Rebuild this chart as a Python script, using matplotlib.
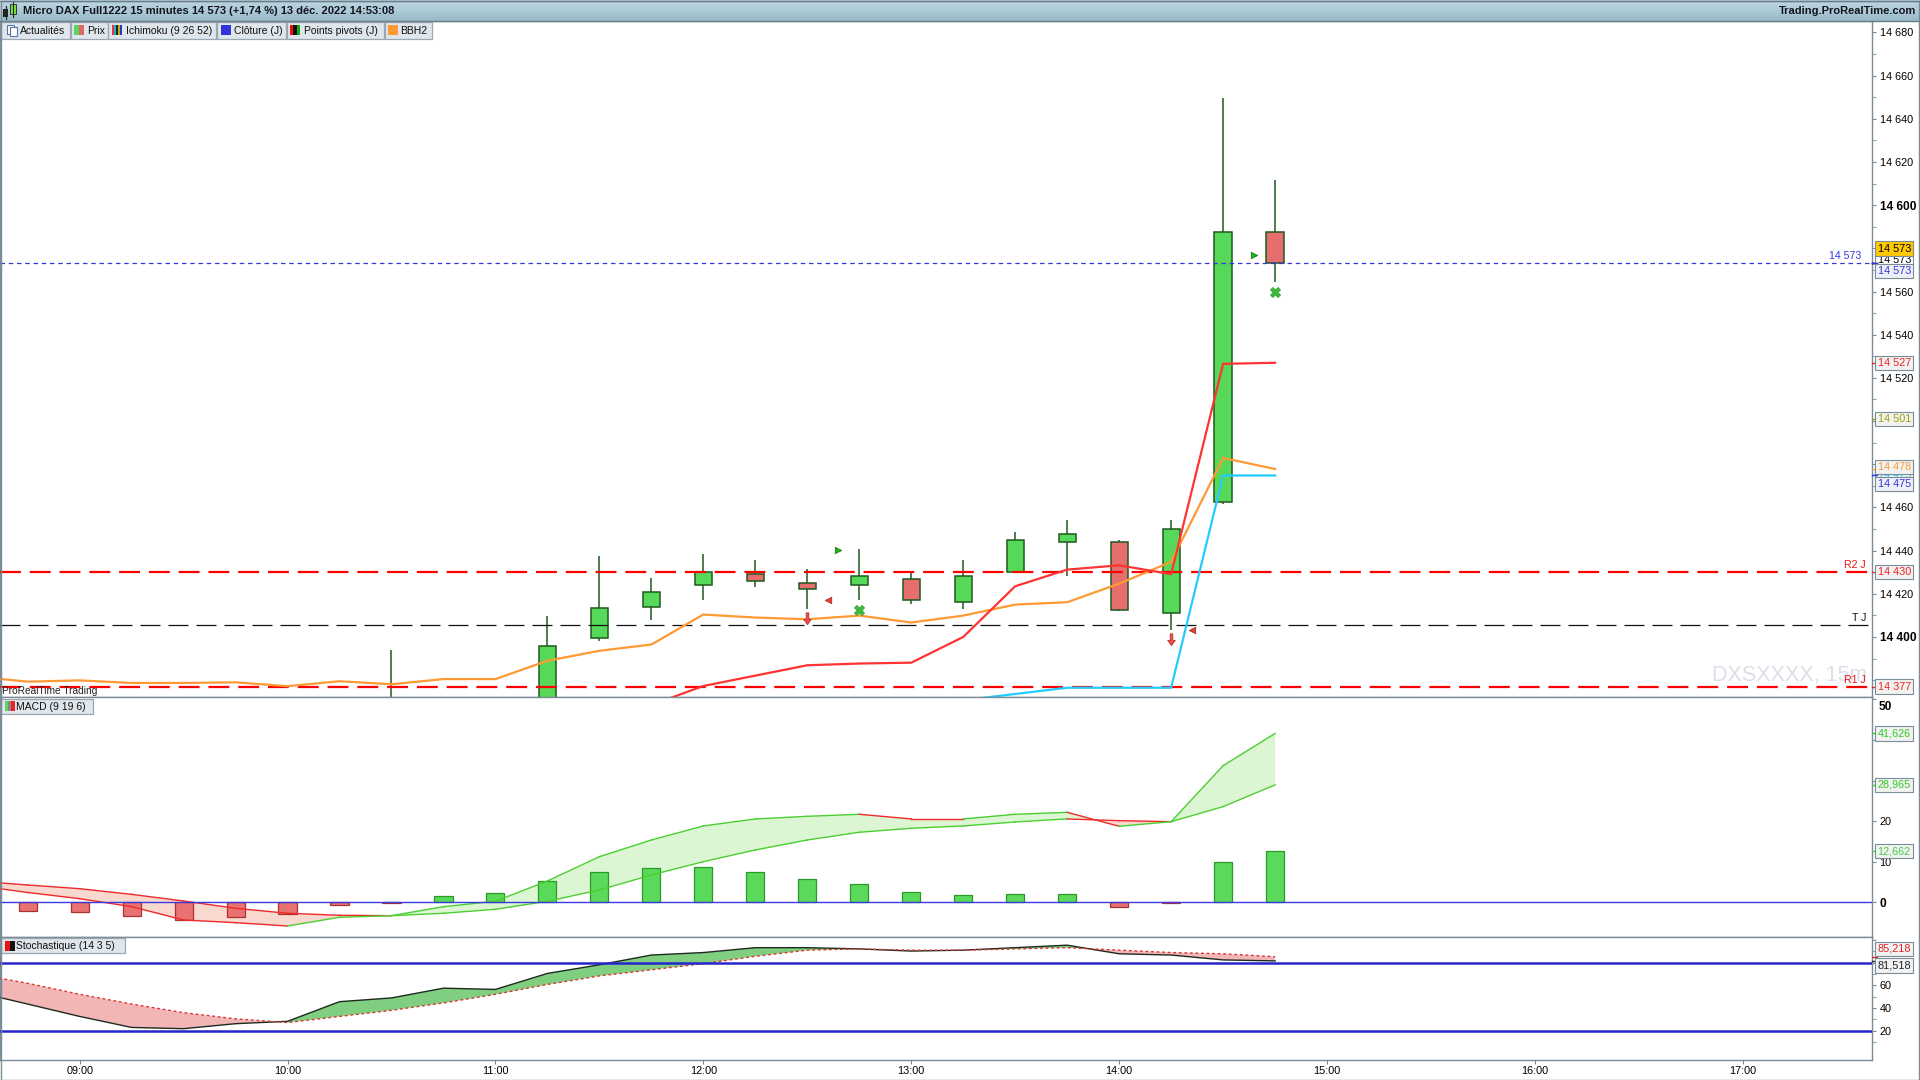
import numpy as np
import matplotlib.pyplot as plt
from matplotlib.patches import Rectangle
from matplotlib.path import Path
from matplotlib.ticker import FixedLocator, MultipleLocator, FuncFormatter

plt.rcParams['font.family'] = ['Liberation Sans', 'DejaVu Sans']

# ---- data: Micro DAX, 15 min bars, 13 Dec 2022 ----
candle_times = ["10:30", "11:15", "11:30", "11:45", "12:00", "12:15", "12:30", "12:45",
                "13:00", "13:15", "13:30", "13:45", "14:00", "14:15", "14:30", "14:45"]
c_open = [14362, 14366, 14399.3, 14413.9, 14424.3, 14429.4, 14425.2, 14424.3,
          14427.0, 14416.4, 14430.3, 14444.2, 14444.2, 14411.3, 14462.3, 14587.4]
c_high = [14393.8, 14409.6, 14437.4, 14427.2, 14438.3, 14435.5, 14431.4, 14440.6,
          14430.4, 14435.5, 14448.5, 14454.4, 14445.0, 14454.4, 14649.6, 14611.6]
c_low = [14352, 14362, 14398.2, 14407.7, 14417.3, 14423.2, 14413.0, 14417.1,
         14415.3, 14413.0, 14430.3, 14428.3, 14412.0, 14403.4, 14461.5, 14564.5]
c_close = [14366, 14396.0, 14413.2, 14421.0, 14430.3, 14426.1, 14422.4, 14428.4,
           14417.3, 14428.4, 14445.1, 14447.5, 14412.4, 14450.2, 14587.4, 14573.0]

ind_times = ["08:30", "08:45", "09:00", "09:15", "09:30", "09:45", "10:00", "10:15", "10:30",
             "10:45", "11:00", "11:15", "11:30", "11:45", "12:00", "12:15", "12:30", "12:45",
             "13:00", "13:15", "13:30", "13:45", "14:00", "14:15", "14:30", "14:45"]
bbh2 = [14381.7, 14379.3, 14379.9, 14378.7, 14378.7, 14379.0, 14377.2, 14379.5, 14378.1,
        14380.5, 14380.5, 14389.0, 14393.6, 14396.5, 14410.4, 14409.0, 14408.2, 14409.9,
        14406.7, 14409.9, 14415.0, 14416.1, 14424.7, 14434.8, 14482.9, 14477.8]
tenkan = [14352, 14360, 14368.5, 14377.3, 14382.1, 14386.9, 14387.7, 14388.1,
          14400.0, 14423.5, 14431.2, 14433.2, 14429.1, 14526.5, 14527.0]      # from 11:00
kijun = [14370.7, 14373.6, 14376.5, 14376.5, 14376.5, 14474.8, 14474.8]     # from 13:15

pivot_r2, pivot_t, pivot_r1 = 14430, 14405.7, 14377
last_price = 14573

# signal markers (time, price)
bull_tri_t, bull_tri_p = ["12:39", "14:39"], [14440.5, 14576.9]
bear_tri_t, bear_tri_p = ["12:36", "14:21"], [14417.3, 14403.4]
down_arrow_t, down_arrow_p = ["12:30", "14:15"], [14408.0, 14398.2]
cross_t, cross_p = ["12:45", "14:45"], [14412.4, 14559.6]

macd_line = [4.2, 2.46, 0.94, -1.03, -4.31, -4.97, -5.79, -3.65, -3.25, -1.03, 0.30, 5.30, 11.28,
             15.39, 18.84, 20.57, 21.22, 21.72, 20.57, 20.57, 21.72, 22.2, 18.76, 19.9, 33.7, 41.626]
macd_signal = [5.29, 4.31, 3.4, 2.0, 0.37, -1.43, -2.66, -3.15, -3.25, -2.66, -1.68, 0.30, 3.08,
               6.77, 10.05, 12.93, 15.39, 17.29, 18.27, 18.84, 19.83, 20.57, 20.15, 19.9, 23.6, 28.965]
macd_hist = [-2.01, -2.42, -3.41, -4.39, -3.65, -2.91, -0.7, -0.2, 1.52, 2.34, 5.22, 7.43, 8.42,
             8.66, 7.43, 5.71, 4.48, 2.5, 1.77, 2.0, 2.0, -1.19, -0.2, 9.9, 12.662]  # from 08:45

stoch_k = [54.3, 43.5, 32.6, 22.9, 21.8, 26.2, 28.3, 45.6, 48.9, 57.5, 56.4, 70.5, 78.1,
           86.7, 88.9, 93.2, 93.2, 92.1, 90.2, 91.0, 93.2, 95.4, 87.8, 86.7, 82.4, 81.518]
stoch_d = [70.1, 61.8, 52.1, 43.5, 35.9, 30.5, 27.2, 32.6, 38.0, 44.5, 52.1, 60.8, 68.3,
           73.7, 79.1, 85.6, 91.0, 92.1, 91.0, 91.0, 92.1, 93.2, 91.0, 88.9, 87.8, 85.218]

hour_ticks = [9, 10, 11, 12, 13, 14, 15, 16, 17]

# ---- helpers ----
GRID = '#7b8c96'
GREEN_EDGE = '#1e5a1e'


def hrs(t):
    h, m = t.split(':')
    return int(h) + int(m) / 60.0


def spaced(v, pos=None):
    return f"{int(np.floor(v + 0.5)):,}".replace(",", " ")


def axis_tag(ax, val, text, tc, fc='#f2f2f2', dy=0.0, z=6):
    ax.plot([1.0, 1.0027], [val, val], transform=ax.get_yaxis_transform(),
            color=tc, lw=1, clip_on=False, zorder=z)
    ax.annotate(text, xy=(1, val), xycoords=('axes fraction', 'data'),
                xytext=(4.0, dy), textcoords='offset points', ha='left', va='center',
                fontsize=7.8, color=tc, annotation_clip=False, zorder=z,
                bbox=dict(boxstyle='square,pad=0.2', fc=fc, ec=GRID, lw=0.8))


def seg_line(ax, x, y, up_c, dn_c, **kw):
    for k in range(len(x) - 1):
        col = up_c if y[k + 1] > y[k] else dn_c
        ax.plot(x[k:k + 2], y[k:k + 2], color=col, **kw)


x_ind = np.array([hrs(t) for t in ind_times])
x_c = np.array([hrs(t) for t in candle_times])
o, h, l, c = map(np.array, (c_open, c_high, c_low, c_close))

fig = plt.figure(figsize=(19.2, 10.8), dpi=100)
fig.patch.set_facecolor('white')

W = 1872 / 1920
ax_p = fig.add_axes([0, 1 - 697 / 1080, W, 676 / 1080])
ax_m = fig.add_axes([0, 1 - 937 / 1080, W, 240 / 1080], sharex=ax_p)
ax_s = fig.add_axes([0, 1 - 1060 / 1080, W, 123 / 1080], sharex=ax_p)

for ax in (ax_p, ax_m, ax_s):
    for sp in ax.spines.values():
        sp.set_color(GRID)
        sp.set_linewidth(1.0)
    ax.yaxis.tick_right()
    ax.tick_params(axis='y', direction='out', length=3, pad=2.5, labelsize=7.8,
                   color=GRID, labelcolor='black', which='both')
    ax.tick_params(axis='y', which='minor', length=3)
    ax.set_facecolor('white')

ax_p.set_xlim(8.617, 17.621)

# ---- price panel ----
ax_p.set_ylim(14372.2, 14685.3)
ax_p.text(0.9973, 0.0325, "DXSXXXX, 15m", transform=ax_p.transAxes, ha='right', va='center',
          fontsize=15.5, color='#dcdfe7', zorder=1)

ax_p.vlines(x_c, l, h, color=GREEN_EDGE, lw=1.1, zorder=2)
body_col = np.where(c >= o, '#58d858', '#e76e6e')
ax_p.bar(x_c, np.abs(c - o), bottom=np.minimum(o, c), width=0.083, color=body_col,
         edgecolor=GREEN_EDGE, lw=1.1, zorder=3)

ax_p.axhline(pivot_r2, color='#ff0000', lw=1.6, ls=(0, (9.4, 4.0)), zorder=4)
ax_p.axhline(pivot_r1, color='#ff0000', lw=1.6, ls=(0, (9.4, 4.0)), zorder=4)
ax_p.axhline(pivot_t, color='#111111', lw=0.9, ls=(0, (16, 6.4)), zorder=4)
ax_p.axhline(last_price, color='#3535e0', lw=0.9, ls=(0, (3.6, 3.0)), zorder=4)

for lvl, txt, col in [(pivot_r2, "R2 J", '#ee1111'), (pivot_t, "T J", '#111111'),
                      (pivot_r1, "R1 J", '#ee1111')]:
    ax_p.annotate(txt, xy=(0.9968, lvl), xycoords=('axes fraction', 'data'), xytext=(0, 1.5),
                  textcoords='offset points', ha='right', va='bottom', fontsize=7.6, color=col,
                  zorder=5)
ax_p.annotate(spaced(last_price), xy=(0.9941, last_price), xycoords=('axes fraction', 'data'),
              xytext=(0, 1.5), textcoords='offset points', ha='right', va='bottom',
              fontsize=7.6, color='#3535e0', zorder=5)

ax_p.plot(x_ind, bbh2, color='#ff9933', lw=1.6, zorder=5)
ax_p.plot(x_ind[-len(tenkan):], tenkan, color='#ff3333', lw=1.6, zorder=5)
ax_p.plot(x_ind[-len(kijun):], kijun, color='#22ccff', lw=1.6, zorder=5)

arrow = Path([(-0.17, 1.0), (0.17, 1.0), (0.17, 0.15), (0.5, 0.15), (0.0, -0.55),
              (-0.5, 0.15), (-0.17, 0.15), (-0.17, 1.0)],
             [Path.MOVETO] + [Path.LINETO] * 6 + [Path.CLOSEPOLY])
ax_p.scatter([hrs(t) for t in down_arrow_t], down_arrow_p, marker=arrow, s=120,
             color='#e85050', edgecolor='#c03030', lw=0.6, zorder=6)
ax_p.scatter([hrs(t) for t in bull_tri_t], bull_tri_p, marker='>', s=22,
             color='#22b022', edgecolor='#117711', lw=0.5, zorder=6)
ax_p.scatter([hrs(t) for t in bear_tri_t], bear_tri_p, marker='<', s=22,
             color='#e04040', edgecolor='#aa2020', lw=0.5, zorder=6)
ax_p.scatter([hrs(t) for t in cross_t], cross_p, marker='X', s=55,
             color='#3cb83c', edgecolor='#2a9a2a', lw=0.4, zorder=6)

price_ticks = list(range(14400, 14681, 20))
ax_p.yaxis.set_major_locator(FixedLocator(price_ticks))
ax_p.yaxis.set_minor_locator(MultipleLocator(10))
# labels hidden in the reference behind the value tags
hidden = (14480, 14500, 14580)
ax_p.set_yticklabels(['' if v in hidden else spaced(v) for v in price_ticks])
for v, lab in zip(price_ticks, ax_p.get_yticklabels()):
    if v in (14400, 14600):
        lab.set_fontweight('bold')
        lab.set_fontsize(8.6)
ax_p.tick_params(axis='x', bottom=False, labelbottom=False)

axis_tag(ax_p, last_price, spaced(last_price), 'black', fc='white', dy=2.7)
axis_tag(ax_p, last_price, spaced(last_price), 'black', fc='#ffc800', dy=10.7, z=7)
axis_tag(ax_p, last_price, spaced(last_price), '#3535e0', fc='#eef0f8', dy=-5.2, z=7)
axis_tag(ax_p, tenkan[-1], spaced(tenkan[-1]), '#ee2222')
axis_tag(ax_p, 14501, "14 501", '#a0a000')
axis_tag(ax_p, kijun[-1], spaced(kijun[-1]), '#22ccff')
axis_tag(ax_p, bbh2[-1], spaced(bbh2[-1]), '#ff9933', dy=1.5, z=7)
axis_tag(ax_p, kijun[-1], spaced(kijun[-1]), '#3535e0', fc='#eef0f8', dy=-6.3, z=8)
axis_tag(ax_p, pivot_r2, spaced(pivot_r2), '#ee2222')
axis_tag(ax_p, pivot_r1, spaced(pivot_r1), '#ee2222')

# ---- MACD panel ----
ax_m.set_ylim(-8.5, 50.6)
mline, msig = np.array(macd_line), np.array(macd_signal)
ax_m.fill_between(x_ind, mline, msig, where=mline >= msig, interpolate=True,
                  color='#dcf6d4', lw=0, zorder=1)
ax_m.fill_between(x_ind, mline, msig, where=mline < msig, interpolate=True,
                  color='#f8d8cf', lw=0, zorder=1)
seg_line(ax_m, x_ind, msig, '#4ccf30', '#ee2a2a', lw=1.0, zorder=3)
seg_line(ax_m, x_ind, mline, '#4ccf30', '#ee2a2a', lw=1.0, zorder=3)
hist = np.array(macd_hist)
ax_m.bar(x_ind[1:], hist, width=0.087, color=np.where(hist >= 0, '#5ad95a', '#e87272'),
         edgecolor=np.where(hist >= 0, '#2a9a2a', '#b03030'), lw=0.9, zorder=2)
ax_m.axhline(0, color='#3b3bdd', lw=1.0, zorder=4)
m_ticks = [0, 10, 20, 30, 40, 50]
ax_m.yaxis.set_major_locator(FixedLocator(m_ticks))
ax_m.set_yticklabels(['0', '10', '20', '', '', ''])
ax_m.get_yticklabels()[0].set_fontweight('bold')
ax_m.get_yticklabels()[0].set_fontsize(8.6)
# top label sits just under the panel edge, as in the reference
ax_m.annotate("50", xy=(1, 50), xycoords=('axes fraction', 'data'), xytext=(4.5, -5.5),
              textcoords='offset points', ha='left', va='center', fontsize=8.6,
              fontweight='bold', annotation_clip=False)
ax_m.tick_params(axis='x', bottom=False, labelbottom=False)
axis_tag(ax_m, macd_line[-1], f"{macd_line[-1]:.3f}".replace('.', ','), '#33cc22')
axis_tag(ax_m, macd_signal[-1], f"{macd_signal[-1]:.3f}".replace('.', ','), '#33cc22')
axis_tag(ax_m, macd_hist[-1], f"{macd_hist[-1]:.3f}".replace('.', ','), '#44cc44')

# ---- Stochastic panel ----
ax_s.set_ylim(-5.8, 102.6)
k, d = np.array(stoch_k), np.array(stoch_d)
ax_s.fill_between(x_ind, k, d, where=k >= d, interpolate=True, color='#80cf80', lw=0, zorder=1)
ax_s.fill_between(x_ind, k, d, where=k < d, interpolate=True, color='#f2b6b6', lw=0, zorder=1)
ax_s.plot(x_ind, k, color='#1e2a1e', lw=1.0, zorder=3)
ax_s.plot(x_ind, d, color='#dd3333', lw=1.0, ls=(0, (2, 2)), zorder=3)
ax_s.axhline(80, color='#2626cc', lw=1.8, zorder=4)
ax_s.axhline(20, color='#2626cc', lw=1.8, zorder=4)
s_ticks = [20, 40, 60, 80, 100]
ax_s.yaxis.set_major_locator(FixedLocator(s_ticks))
ax_s.yaxis.set_minor_locator(FixedLocator([10, 30, 50, 70, 90]))
ax_s.set_yticklabels(['20', '40', '60', '', ''])
axis_tag(ax_s, stoch_d[-1], f"{stoch_d[-1]:.3f}".replace('.', ','), '#dd2222', dy=5.6)
axis_tag(ax_s, stoch_k[-1], f"{stoch_k[-1]:.3f}".replace('.', ','), '#222222', dy=-3.2)

ax_s.xaxis.set_major_locator(FixedLocator(hour_ticks))
ax_s.xaxis.set_major_formatter(FuncFormatter(lambda v, p: f"{int(v):02d}:00"))
ax_s.tick_params(axis='x', direction='out', length=3, pad=1.5, labelsize=7.8, color=GRID)

# ---- chrome: title bar, tabs, panel labels (pixel overlay) ----
ov = fig.add_axes([0, 0, 1, 1], zorder=20)
ov.patch.set_alpha(0)
grad = np.linspace(0, 1, 32).reshape(-1, 1)
top_c, bot_c = np.array([0.75, 0.85, 0.89]), np.array([0.60, 0.73, 0.79])
ov.imshow(top_c + grad[..., None] * (bot_c - top_c), extent=[0, 1920, 21, 0], aspect='auto')
ov.plot([0, 1920], [20.5, 20.5], color='#6a7e8a', lw=1)
ov.plot([0, 1920], [0.5, 0.5], color='#6a7e8a', lw=1)
ov.add_patch(Rectangle((3, 9), 5, 8, fc='#222222', ec='none'))
ov.add_patch(Rectangle((10, 4), 6, 10, fc='#7adf3a', ec='#222222', lw=0.6))
ov.plot([5.5, 5.5], [6, 19], color='#222222', lw=0.8)
ov.plot([13, 13], [2, 17], color='#222222', lw=0.8)
ov.text(23, 11.5, "Micro DAX Full1222 15 minutes 14 573 (+1,74 %) 13 déc. 2022 14:53:08",
        fontsize=8.0, fontweight='bold', va='center', ha='left', color='#15151f')
ov.text(1916, 11.5, "Trading.ProRealTime.com", fontsize=8.0, fontweight='bold',
        va='center', ha='right', color='#15151f')

BTN_FC, BTN_EC = '#dfe6ec', '#9aa8b4'


def button(x0, x1, y0, y1, label, icon_cols, tx):
    ov.add_patch(Rectangle((x0, y0), x1 - x0, y1 - y0, fc=BTN_FC, ec=BTN_EC, lw=0.9))
    if icon_cols:
        wd = 10.0 / len(icon_cols)
        for n, col in enumerate(icon_cols):
            ov.add_patch(Rectangle((x0 + 3.5 + n * wd, (y0 + y1) / 2 - 5), wd, 10,
                                   fc=col, ec='none'))
    ov.text(tx, (y0 + y1) / 2 + 0.5, label, fontsize=7.5, va='center', ha='left',
            color='#111111')


button(0.5, 70, 21.5, 38.5, "Actualités", None, 20)
ov.add_patch(Rectangle((7, 24.5), 7, 9, fc='white', ec='#5577aa', lw=0.8))
ov.add_patch(Rectangle((9.5, 26.5), 7, 9, fc='white', ec='#5577aa', lw=0.8))
button(70.5, 107.5, 21.5, 38.5, "Prix", ['#5fd35f', '#e06666'], 87.5)
button(108, 216, 21.5, 38.5, "Ichimoku (9 26 52)",
       ['#ee3333', '#22aadd', '#222222', '#b3b300', '#3333cc'], 126)
button(217, 286, 21.5, 38.5, "Clôture (J)", ['#3333dd'], 233.5)
button(286.5, 383.5, 21.5, 38.5, "Points pivots (J)", ['#ee1111', '#111111', '#11aa11'], 304)
button(384.5, 431.5, 21.5, 38.5, "BBH2", ['#ff9933'], 400.5)

ov.text(2, 691.5, "ProRealTime Trading", fontsize=7.3, va='center', ha='left', color='#222222')
button(1, 92.5, 698.5, 713.5, "MACD (9 19 6)", ['#5fd35f', '#888888', '#ee2222'], 16)
button(1, 125, 938, 953, "Stochastique (14 3 5)", ['#ee1111', '#111111'], 16)

ov.add_patch(Rectangle((0.5, 0.5), 1918.5, 1079, fc='none', ec=GRID, lw=1))
ov.set_xlim(0, 1920)
ov.set_ylim(1080, 0)
ov.axis('off')

fig.savefig("out.png", dpi=100)
